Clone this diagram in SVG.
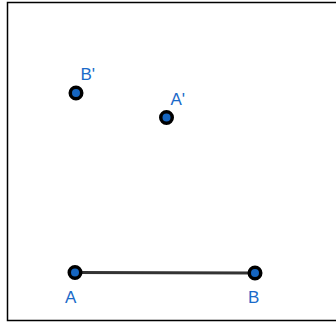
<svg xmlns="http://www.w3.org/2000/svg" width="336" height="322" viewBox="0 0 336 322">
<style>
.pt{fill:#1565c0;stroke:#000;stroke-width:3.5}
.lbl{font-family:"Liberation Sans",Arial,sans-serif;font-size:17px;fill:#1a6ac9}
.seg{stroke:#333;stroke-width:3;fill:none}
</style>
<rect x="0" y="0" width="336" height="322" fill="#fff"/>
<path d="M338 2.5 H7.5 V320.5 H338" fill="none" stroke="#000" stroke-width="1.5"/>
<g id="connectors">
<line class="seg" x1="75" y1="272.5" x2="255" y2="273"/>
</g>
<g id="node-A"><circle class="pt" cx="75" cy="272.5" r="5.75"/><text class="lbl" x="65" y="303">A</text></g>
<g id="node-B"><circle class="pt" cx="255" cy="273" r="5.75"/><text class="lbl" x="248" y="303">B</text></g>
<g id="node-B-prime"><circle class="pt" cx="76" cy="93" r="5.75"/><text class="lbl" x="80.5" y="80">B'</text></g>
<g id="node-A-prime"><circle class="pt" cx="166.5" cy="117.5" r="5.75"/><text class="lbl" x="170.5" y="104.5">A'</text></g>
</svg>
